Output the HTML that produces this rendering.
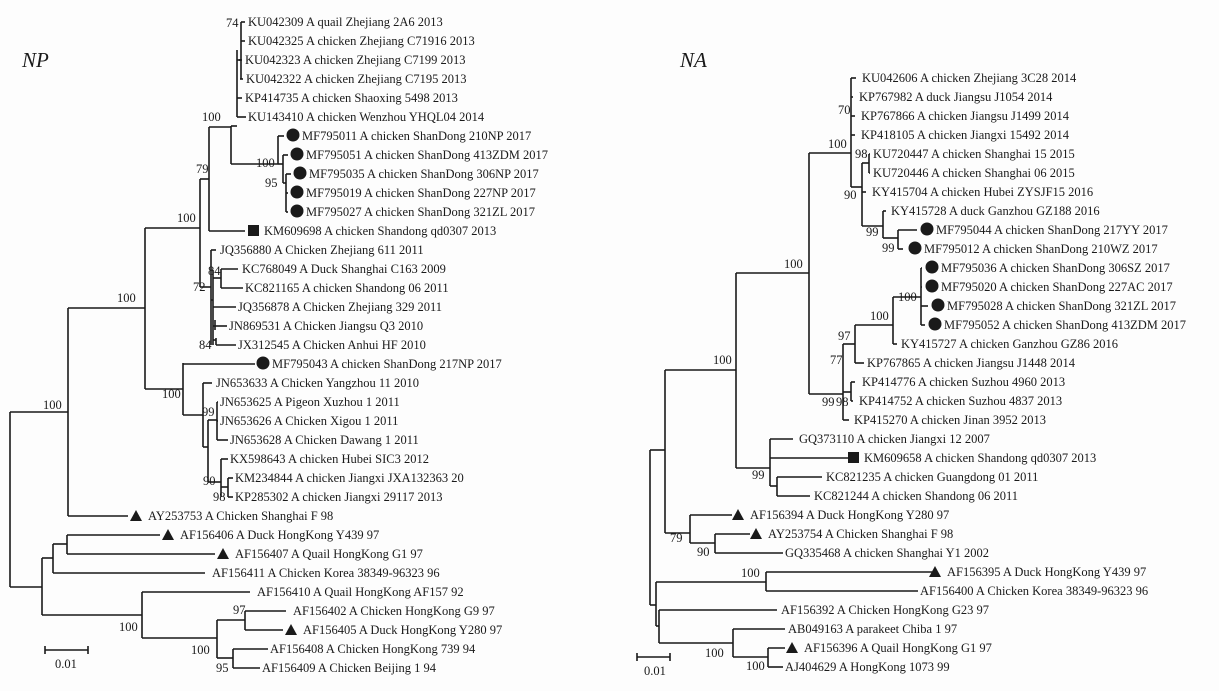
<!DOCTYPE html>
<html><head><meta charset="utf-8">
<style>
html,body{margin:0;padding:0;background:#fff;}
svg{display:block;}
text{font-family:"Liberation Serif",serif;font-size:12.5px;fill:#1a1a1a;}
.ttl{font-size:21px;font-style:italic;}
</style></head>
<body>
<svg id="c" width="1219" height="691" viewBox="0 0 1219 691">
<rect x="0" y="0" width="1219" height="691" fill="#fdfdfd"/>
<text class="ttl" x="22" y="67">NP</text>
<text class="ttl" x="680" y="67">NA</text>
</svg>
<script>
// Leaves: [label, row y, line start x, line end x, text x, marker]
const npLeaves = [
["KU042309 A quail Zhejiang 2A6 2013",22,241,245,248,""],
["KU042325 A chicken Zhejiang C71916 2013",41,241,245,248,""],
["KU042323 A chicken Zhejiang C7199 2013",60,239,242,245,""],
["KU042322 A chicken Zhejiang C7195 2013",79,240,243,246,""],
["KP414735 A chicken Shaoxing 5498 2013",98,237,242,245,""],
["KU143410 A chicken Wenzhou YHQL04 2014",117,237,246,248,""],
["MF795011 A chicken ShanDong 210NP 2017",136,278,284,302,"c"],
["MF795051 A chicken ShanDong 413ZDM 2017",155,283,288,306,"c"],
["MF795035 A chicken ShanDong 306NP 2017",174,286,291,309,"c"],
["MF795019 A chicken ShanDong 227NP 2017",193,286,288,306,"c"],
["MF795027 A chicken ShanDong 321ZL 2017",212,286,288,306,"c"],
["KM609698 A chicken Shandong qd0307 2013",231,209,245,264,"s"],
["JQ356880 A Chicken Zhejiang 611 2011",250,211,216,220,""],
["KC768049 A Duck Shanghai C163 2009",269,221,238,242,""],
["KC821165 A chicken Shandong 06 2011",288,221,243,245,""],
["JQ356878 A Chicken Zhejiang 329 2011",307,213,236,238,""],
["JN869531 A Chicken Jiangsu Q3 2010",326,215,227,229,""],
["JX312545 A Chicken Anhui HF 2010",345,216,236,238,""],
["MF795043 A chicken ShanDong 217NP 2017",364,183,255,272,"c"],
["JN653633 A Chicken Yangzhou 11 2010",383,203,212,216,""],
["JN653625 A Pigeon Xuzhou 1 2011",402,217,218,220,""],
["JN653626 A Chicken Xigou 1 2011",421,217,218,220,""],
["JN653628 A Chicken Dawang 1 2011",440,217,228,230,""],
["KX598643 A chicken Hubei SIC3 2012",459,221,228,230,""],
["KM234844 A chicken Jiangxi JXA132363 20",478,228,233,235,""],
["KP285302 A chicken Jiangxi 29117 2013",497,228,233,235,""],
["AY253753 A Chicken Shanghai F 98",516,68,128,148,"t"],
["AF156406 A Duck HongKong Y439 97",535,67,160,180,"t"],
["AF156407 A Quail HongKong G1 97",554,67,215,235,"t"],
["AF156411 A Chicken Korea 38349-96323 96",573,53,205,212,""],
["AF156410 A Quail HongKong AF157 92",592,142,250,257,""],
["AF156402 A Chicken HongKong G9 97",611,245,286,293,""],
["AF156405 A Duck HongKong Y280 97",630,245,283,303,"t"],
["AF156408 A Chicken HongKong 739 94",649,233,268,270,""],
["AF156409 A Chicken Beijing 1 94",668,233,260,262,""]
];
// Internal nodes: [x, y top, y bottom, parent x (horizontal from), y of horizontal]
const npNodes = [
[10,412,587],[68,308,516,10,412],[145,228,389,68,308],[200,179,287,145,228],
[209,127,231,200,179],[231,126,164,209,127],[241,22,79,237,60],[237,50,117,231,126],
[278,136,164,231,164],[283,155,183,278,164],[286,174,212,283,183],
[211,250,345,200,287],[213,270,345,211,300],[221,269,288,213,278],[215,320,330,213,326],[216,338,345,213,340],
[183,363,415,145,389],[203,383,447,183,415],[208,420,482,203,447],[217,402,440,208,420],
[221,459,497,208,482],[228,478,497,221,487],
[42,558,615,10,587],[53,544,573,42,558],[67,535,554,53,544],
[142,592,638,42,615],[217,620,658,142,638],[245,611,630,217,620],[233,649,668,217,658]
];
const npSupport = [["74",226,27],["100",202,121],["100",256,167],["95",265,187],["79",196,173],["100",177,222],
["84",208,275],["72",193,291],["84",199,349],["100",117,302],["100",162,398],["99",202,416],["90",203,485],["98",213,501],["100",43,409],
["97",233,614],["100",119,631],["100",191,654],["95",216,672]];

const naLeaves = [
["KU042606 A chicken Zhejiang 3C28 2014",78,851,856,862,""],
["KP767982 A duck Jiangsu J1054 2014",97,851,853,859,""],
["KP767866 A chicken Jiangsu J1499 2014",116,851,855,861,""],
["KP418105 A chicken Jiangxi 15492 2014",135,851,855,861,""],
["KU720447 A chicken Shanghai 15 2015",154,869,870,873,""],
["KU720446 A chicken Shanghai 06 2015",173,869,870,873,""],
["KY415704 A chicken Hubei ZYSJF15 2016",192,862,866,872,""],
["KY415728 A duck Ganzhou GZ188 2016",211,883,886,891,""],
["MF795044 A chicken ShanDong 217YY 2017",230,898,917,936,"c"],
["MF795012 A chicken ShanDong 210WZ 2017",249,898,903,924,"c"],
["MF795036 A chicken ShanDong 306SZ 2017",268,921,922,941,"c"],
["MF795020 A chicken ShanDong 227AC 2017",287,921,922,941,"c"],
["MF795028 A chicken ShanDong 321ZL 2017",306,921,928,947,"c"],
["MF795052 A chicken ShanDong 413ZDM 2017",325,921,925,944,"c"],
["KY415727 A chicken Ganzhou GZ86 2016",344,893,897,901,""],
["KP767865 A chicken Jiangsu J1448 2014",363,855,864,867,""],
["KP414776 A chicken Suzhou 4960 2013",382,851,855,862,""],
["KP414752 A chicken Suzhou 4837 2013",401,851,853,859,""],
["KP415270 A chicken Jinan 3952 2013",420,843,849,854,""],
["GQ373110 A chicken Jiangxi 12 2007",439,770,793,799,""],
["KM609658 A chicken Shandong qd0307 2013",458,770,848,864,"s"],
["KC821235 A chicken Guangdong 01 2011",477,777,822,826,""],
["KC821244 A chicken Shandong 06 2011",496,777,810,814,""],
["AF156394 A Duck HongKong Y280 97",515,690,732,750,"t"],
["AY253754 A Chicken Shanghai F 98",534,715,750,768,"t"],
["GQ335468 A chicken Shanghai Y1 2002",553,715,783,785,""],
["AF156395 A Duck HongKong Y439 97",572,766,932,947,"t"],
["AF156400 A Chicken Korea 38349-96323 96",591,766,918,920,""],
["AF156392 A Chicken HongKong G23 97",610,659,777,781,""],
["AB049163 A parakeet Chiba 1 97",629,733,785,788,""],
["AF156396 A Quail HongKong G1 97",648,768,785,804,"t"],
["AJ404629 A HongKong 1073 99",667,768,783,785,""]
];
const naNodes = [
[650,450,605],[665,370,533,650,450],[736,273,468,665,370],[809,153,394,736,273],
[851,78,187,809,153],[862,163,226,851,187],[869,154,173,862,163],[883,211,238,862,226],[898,230,249,883,238],
[843,344,420,809,394],[855,325,363,843,344],[893,297,344,855,325],[921,268,325,893,297],[851,382,401,843,392],
[770,439,486,736,468],[777,477,496,770,486],
[690,515,543,665,533],[715,534,553,690,543],
[656,582,626,650,605],[766,572,591,656,582],[659,610,643,656,626],[733,629,657,659,643],[768,648,667,733,657]
];
const naSupport = [["70",838,114],["100",828,148],["98",855,158],["90",844,199],["99",866,236],["99",882,252],
["100",898,301],["100",870,320],["97",838,340],["77",830,364],["99",822,406],["98",836,406],["100",784,268],["100",713,364],["99",752,479],
["79",670,542],["90",697,556],["100",741,577],["100",705,657],["100",746,670]];

const S = document.getElementById('c');
const NS = 'http://www.w3.org/2000/svg';
function mk(tag, attrs){ const e=document.createElementNS(NS,tag); for(const k in attrs) e.setAttribute(k,attrs[k]); S.appendChild(e); return e; }
function line(x1,y1,x2,y2,name){
  const e=mk('line',{x1:x1,y1:y1,x2:x2,y2:y2,stroke:'#1a1a1a','stroke-width':1.6});
  
  
}
function drawTree(leaves,nodes,sup,prefix){
  nodes.forEach((n,i)=>{
    line(n[0],n[1],n[0],n[2],prefix+'-node-vertical');
    if(n.length>3) line(n[3],n[4],n[0],n[4],prefix+'-branch');
  });
  leaves.forEach(l=>{
    const [lab,y,x1,x2,tx,m]=l;
    line(x1,y,x2,y,prefix+'-leaf-branch');
    let t=tx;
    if(m==='c'){ const e=mk('circle',{cx:tx-9,cy:y-1,r:6.5,fill:'#1a1a1a'});
      
       }
    if(m==='s'){ const e=mk('rect',{x:tx-16,y:y-6,width:11,height:11,fill:'#1a1a1a'});
      
       }
    if(m==='t'){ const e=mk('polygon',{points:(tx-18)+','+(y+5)+' '+(tx-12)+','+(y-6)+' '+(tx-6)+','+(y+5),fill:'#1a1a1a'});
      
       }
    const te=mk('text',{x:t,y:y+4});
    te.textContent=lab;
    
    
  });
  sup.forEach(s=>{
    const te=mk('text',{x:s[1],y:s[2],'font-size':'11.5'});
    te.textContent=s[0];
    
    
  });
}
drawTree(npLeaves,npNodes,npSupport,'np');
drawTree(naLeaves,naNodes,naSupport,'na');
// scale bars
function scale(x1,x2,y,lx,name){
  line(x1,y,x2,y,name);
  line(x1,y-4,x1,y+4,name);
  line(x2,y-4,x2,y+4,name);
  const te=mk('text',{x:lx,y:y+18});
  te.textContent='0.01';
  
  
}
scale(45,88,650,55,'np-scale-bar');
scale(637,670,657,644,'na-scale-bar');
</script>
</body></html>
